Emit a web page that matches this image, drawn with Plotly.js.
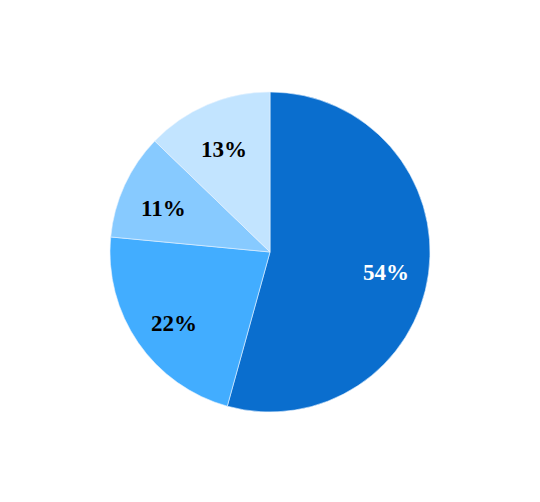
<!DOCTYPE html>
<html>
<head>
<meta charset="utf-8">
<script src="https://cdn.plot.ly/plotly-3.0.1.min.js"></script>
<style>html,body{margin:0;padding:0;background:#fff;}#chart{width:540px;height:502px;}</style>
</head>
<body>
<div id="chart"></div>
<script>
var labels = ["A", "B", "C", "D"];
var values = [54.3, 22.2, 10.7, 12.8];
var valueLabels = ["54%", "22%", "11%", "13%"];
var colors = ["#0A6ECE", "#42ADFF", "#87CAFF", "#C2E4FF"];
var textColors = ["#FFFFFF", "#000000", "#000000", "#000000"];

var W = 540, H = 502;
var margin = {l: 0, r: 0, t: 92, b: 90};
var plotW = W - margin.l - margin.r, plotH = H - margin.t - margin.b;
var R = Math.min(plotW, plotH) / 2;
var labelR = 0.73 * R;

var total = values.reduce(function (a, b) { return a + b; }, 0);
var annotations = [];
var cum = 0;
for (var i = 0; i < values.length; i++) {
  var mid = (cum + values[i] / 2) / total * 2 * Math.PI;
  cum += values[i];
  annotations.push({
    x: 0.5 + labelR * Math.sin(mid) / plotW,
    y: 0.5 + labelR * Math.cos(mid) / plotH,
    xref: "paper", yref: "paper",
    xanchor: "center", yanchor: "middle",
    yshift: -5,
    showarrow: false,
    text: valueLabels[i],
    font: {family: "'Times New Roman', 'Liberation Serif', Times", size: 23, color: textColors[i], weight: 700}
  });
}

var trace = {
  type: "pie",
  labels: labels,
  values: values,
  sort: false,
  direction: "clockwise",
  rotation: 0,
  textinfo: "none",
  hoverinfo: "label+percent",
  marker: {colors: colors, line: {color: "#E8F4FF", width: 0.6}},
  showlegend: false
};

var layout = {
  width: W,
  height: H,
  margin: margin,
  paper_bgcolor: "#FFFFFF",
  plot_bgcolor: "#FFFFFF",
  showlegend: false,
  annotations: annotations
};

Plotly.newPlot("chart", [trace], layout, {displayModeBar: false, staticPlot: true});
</script>
</body>
</html>
